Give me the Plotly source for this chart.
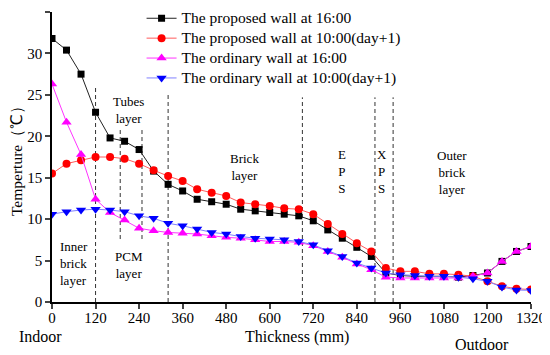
import plotly.graph_objects as go

thickness = [0, 40, 80, 120, 160, 200, 240, 280, 320, 360, 400, 440, 480, 520, 560, 600, 640,
             680, 720, 760, 800, 840, 880, 920, 960, 1000, 1040, 1080, 1120, 1160, 1200, 1240, 1280, 1320]

proposed_16 = [31.8, 30.4, 27.5, 22.9, 19.8, 19.4, 18.4, 15.8, 14.2, 13.4, 12.4, 12.1, 11.8, 11.2, 11.0, 10.8, 10.6,
               10.4, 9.8, 8.7, 7.7, 6.6, 5.5, 3.5, 3.2, 3.1, 3.1, 3.1, 3.0, 3.2, 3.5, 4.9, 6.1, 6.7]
proposed_10 = [15.5, 16.7, 17.1, 17.5, 17.5, 17.3, 16.7, 15.9, 15.2, 14.6, 13.6, 13.2, 12.8, 12.0, 11.8, 11.6, 11.3,
               11.2, 10.6, 9.4, 8.2, 7.1, 6.1, 4.1, 3.7, 3.7, 3.4, 3.4, 3.3, 3.1, 2.5, 1.9, 1.6, 1.5]
ordinary_16 = [26.3, 21.7, 17.8, 12.4, 10.8, 9.9, 8.9, 8.6, 8.4, 8.3, 8.2, 8.0, 7.8, 7.7, 7.5, 7.3, 7.3,
               7.2, 6.8, 6.1, 5.4, 4.6, 3.9, 3.0, 2.9, 2.9, 2.9, 2.9, 2.9, 3.1, 3.5, 4.9, 6.1, 6.7]
ordinary_10 = [10.6, 10.9, 11.1, 11.2, 11.1, 10.9, 10.4, 10.1, 9.5, 9.2, 8.8, 8.4, 8.2, 7.9, 7.7, 7.6, 7.5,
               7.3, 6.9, 6.2, 5.5, 4.7, 4.1, 3.5, 3.3, 3.2, 3.1, 3.1, 3.0, 2.8, 2.5, 1.8, 1.45, 1.4]

series_names = ["The proposed wall at 16:00", "The proposed wall at 10:00(day+1)",
                "The ordinary wall at 16:00", "The ordinary wall at 10:00(day+1)"]

x_ticks = [0, 120, 240, 360, 480, 600, 720, 840, 960, 1080, 1200, 1320]
y_ticks = [0, 5, 10, 15, 20, 25, 30, 35]

# layer boundaries (x, y_bottom, y_top)
boundaries = [(120, 0, 26), (188, 7.6, 21), (248, 7.6, 21), (320, 0, 25),
              (690, 0, 24.7), (890, 0, 24.7), (940, 0, 24.7)]

FONT = "Liberation Serif"

fig = go.Figure()
styles = [
    dict(line=dict(color="#222222", width=1), marker=dict(symbol="square", size=7, color="#000000")),
    dict(line=dict(color="#ff5a5a", width=1), marker=dict(symbol="circle", size=8, color="#ff0000")),
    dict(line=dict(color="#ff33ff", width=1), marker=dict(symbol="triangle-up", size=9, color="#ff00ff")),
    dict(line=dict(color="#8080ff", width=1), marker=dict(symbol="triangle-down", size=9, color="#0000ff")),
]
for name, ys, st in zip(series_names, [proposed_16, proposed_10, ordinary_16, ordinary_10], styles):
    fig.add_trace(go.Scatter(x=thickness, y=ys, mode="lines+markers",
                             name='<span style="font-size:15.5px">' + name + '</span>', **st))

shapes = []
for bx, b0, b1 in boundaries:
    shapes.append(dict(type="line", xref="x", yref="y", x0=bx, x1=bx, y0=b0, y1=b1,
                       line=dict(color="#333333", width=1, dash="4px,3px"), layer="below"))

ann = []
def txt(x, y, s, size=13, xref="x", yref="y", **kw):
    ann.append(dict(x=x, y=y, xref=xref, yref=yref, text=s, showarrow=False,
                    xanchor="center", yanchor="middle",
                    font=dict(family=FONT, size=size, color="#000"), **kw))

txt(60, 4.7, "Inner<br>brick<br>layer", align="left")
txt(210, 23.2, "Tubes<br>layer")
txt(212, 4.5, "PCM<br>layer")
txt(530, 16.3, "Brick<br>layer")
txt(798, 15.8, "E<br>P<br>S")
txt(910, 15.8, "X<br>P<br>S")
txt(1101, 15.6, "Outer<br>brick<br>layer")
txt(-0.023, -0.12, "Indoor", size=16, xref="paper", yref="paper")
txt(0.898, -0.145, "Outdoor", size=16, xref="paper", yref="paper")
txt(0.511, -0.12, "Thickness (mm)", size=16, xref="paper", yref="paper")
txt(-0.0751, 0.5, "Temperture（℃）", size=15.5, xref="paper", yref="paper", textangle=-90)

# page body has an 8px margin, so the figure is sized/offset to keep the plot area in place
fig.update_layout(
    width=542, height=347,
    margin=dict(l=44, r=19, t=3.5, b=53, autoexpand=False),
    paper_bgcolor="white", plot_bgcolor="white",
    font=dict(family=FONT, size=15, color="#000"),
    shapes=shapes, annotations=ann,
    legend=dict(x=0.187, y=1.03, xanchor="left", yanchor="top", bgcolor="rgba(0,0,0,0)",
                font=dict(family=FONT, size=13), tracegroupgap=0),
    showlegend=True,
)
fig.update_xaxes(range=[0, 1320], tickvals=x_ticks, ticks="outside", ticklen=5, tickwidth=1.5,
                 showline=True, linecolor="#000", linewidth=1.5, showgrid=False, zeroline=False,
                 automargin=False, ticklabelstandoff=-4, tickfont=dict(family=FONT, size=15))
fig.update_yaxes(range=[0, 35], tickvals=y_ticks, ticks="outside", ticklen=5, tickwidth=1.5,
                 showline=True, linecolor="#000", linewidth=1.5, showgrid=False, zeroline=False,
                 automargin=False, tickfont=dict(family=FONT, size=15))

fig.write_html("out.html")
